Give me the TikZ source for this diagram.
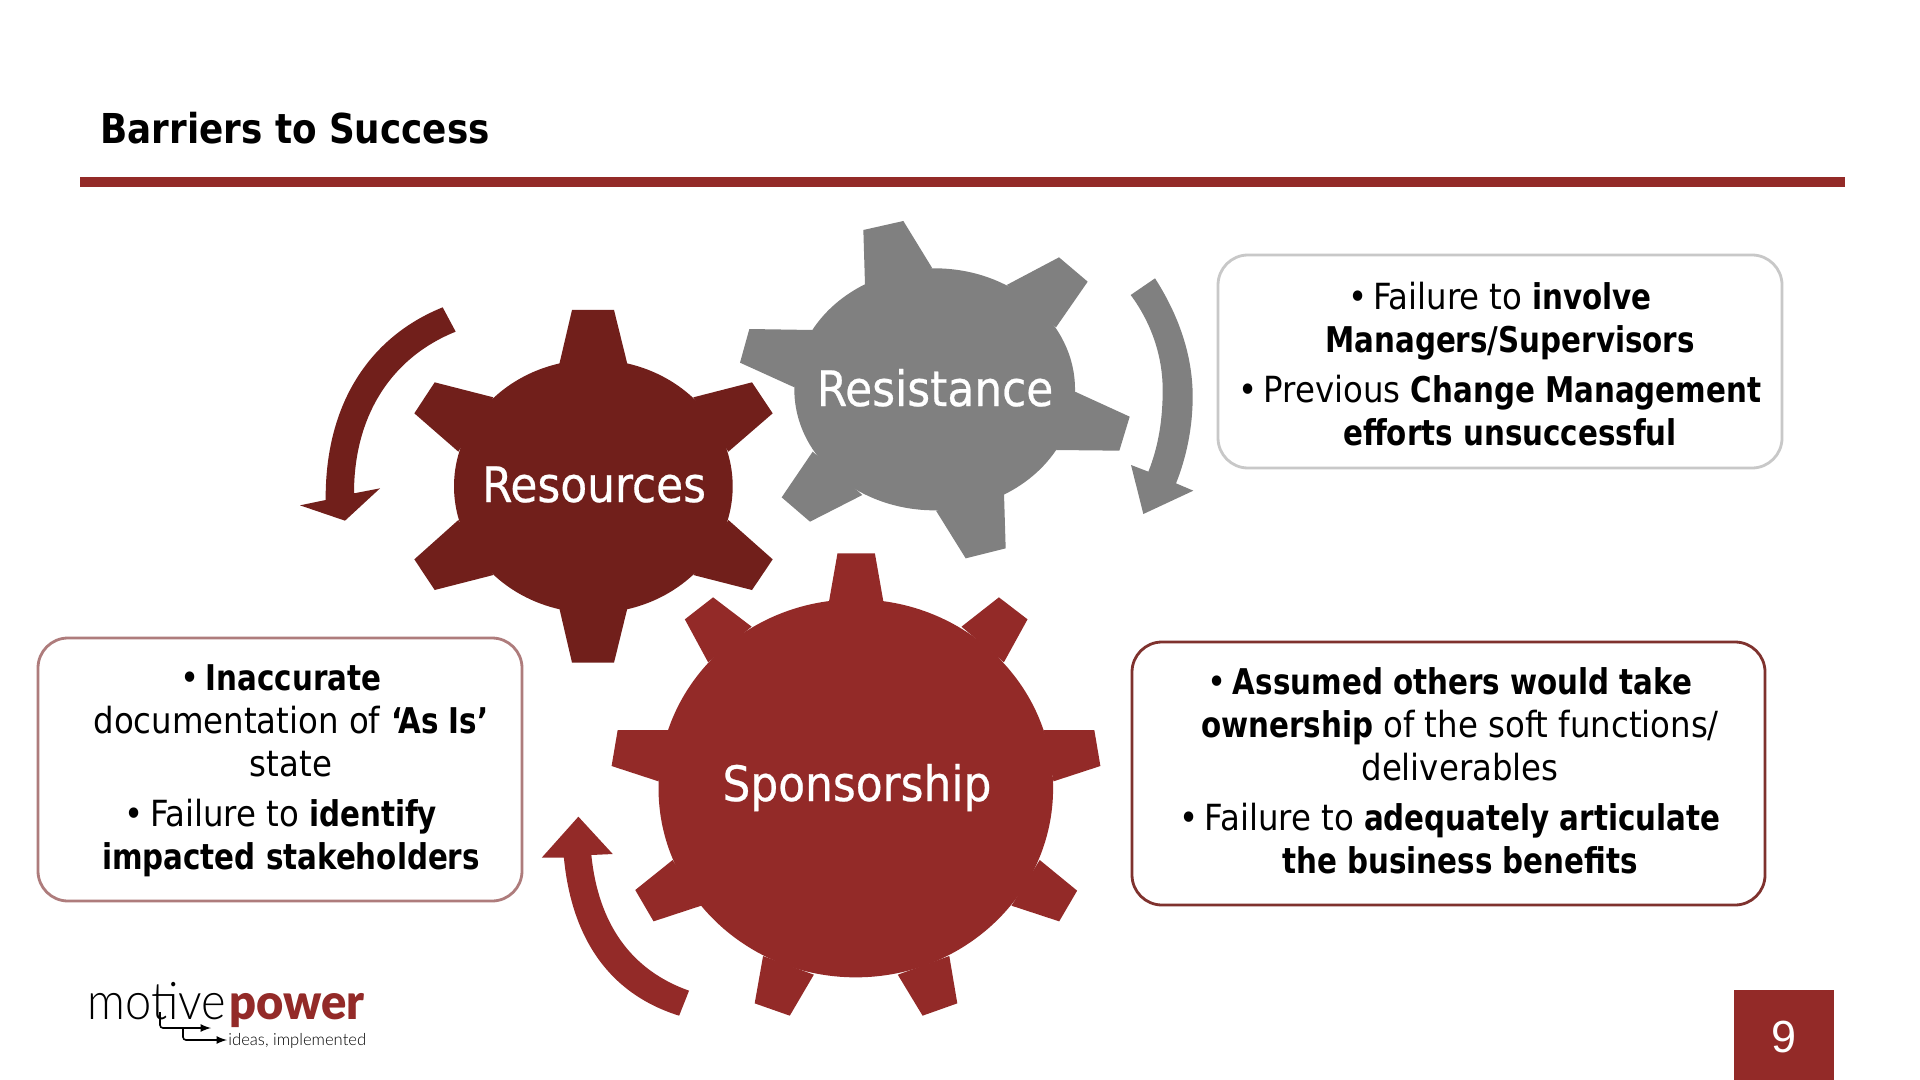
\documentclass[tikz,border=0pt]{standalone}
\usepackage{fontspec}
\setmainfont{DejaVu Sans Condensed}[BoldFeatures={FakeStretch=0.92,Scale=0.985}]
\newfontfamily\titlefont{DejaVu Sans Condensed}[BoldFeatures={FakeStretch=0.965}]
\newfontfamily\gearfont{DejaVu Sans Condensed}[FakeBold=0.5]
\newfontfamily\numfont{Liberation Sans}
\newfontfamily\logofont{Lato Light}
\newfontfamily\logobold{Lato Black}
\definecolor{sponsor}{HTML}{932A28}
\definecolor{resource}{HTML}{711F1B}
\definecolor{resist}{HTML}{808080}
\definecolor{edgeA}{HTML}{C8C8C8}
\definecolor{edgeB}{HTML}{AE7C7C}
\definecolor{edgeC}{HTML}{7F322E}
\newcommand{\bulletline}[1]{\mbox{\textbullet\,#1\hspace{10pt}}}
\begin{document}
\begin{tikzpicture}[x=0.5pt,y=-0.5pt,
  boxA/.style={draw=#1,line width=1.4pt,rounded corners=15pt,fill=white},
  info/.style={font=\fontsize{18}{21.5}\selectfont,align=center,text=black,inner sep=0pt},
  gearlabel/.style={font=\gearfont\fontsize{24.4}{28}\selectfont,text=white,inner sep=0pt,anchor=base}]
\useasboundingbox (0,0) rectangle (1920,1080);
\fill[white] (0,0) rectangle (1920,1080);
% title
\node[anchor=base west,font=\titlefont\fontsize{20.6}{24}\selectfont\bfseries,inner sep=0pt] (title) at (100,143.5) {Barriers to Success};
\fill[sponsor] (80,177) rectangle (1845,187);
% resistance gear
\begin{scope}[shift={(700,200)},x=0.16667pt,y=-0.16667pt,fill=resist]
\fill (704,568) ellipse [x radius=421,y radius=363];
\fill (495,255)--(490,90)--(610,63)--(697,205)--cycle;
\fill (920,255)--(1077,172)--(1163,245)--(1068,382)--cycle;
\fill (1125,575)--(1289,650)--(1258,752)--(1068,750)--cycle;
\fill (912,882)--(917,1045)--(797,1075)--(708,932)--cycle;
\fill (487,885)--(330,965)--(245,892)--(338,755)--cycle;
\fill (283,562)--(120,488)--(148,387)--(338,390)--cycle;
\fill (1365,235) .. controls (1445,360) and (1478,480) .. (1478,590) .. controls (1478,680) and (1460,770) .. (1428,850) -- (1480,872) -- (1330,942) -- (1293,795) -- (1345,815) .. controls (1375,740) and (1388,660) .. (1388,570) .. controls (1388,470) and (1355,370) .. (1292,285) -- cycle;
\end{scope}
% resources gear
\begin{scope}[shift={(280,280)},x=0.16667pt,y=-0.16667pt,fill=resource]
\fill (940,619) ellipse [x radius=418,y radius=380];
\fill (838,252)--(876,90)--(1002,90)--(1042,252)--cycle;
\fill (1240,352)--(1416,307)--(1478,400)--(1345,515)--cycle;
\fill (1345,720)--(1478,838)--(1416,930)--(1240,885)--cycle;
\fill (1042,985)--(1002,1148)--(876,1148)--(838,985)--cycle;
\fill (640,885)--(464,930)--(403,838)--(535,720)--cycle;
\fill (535,515)--(403,400)--(464,307)--(640,352)--cycle;
\fill (488,82) .. controls (270,170) and (135,370) .. (137,660) -- (60,676) -- (195,722) -- (300,625) -- (222,640) .. controls (222,400) and (340,230) .. (527,155) -- cycle;
\end{scope}
% sponsorship gear
\begin{scope}[shift={(520,540)},x=0.1908pt,y=-0.16667pt,fill=sponsor]
\fill (880,745) ellipse [x radius=517,y radius=567];
\fill (810,183)--(832,40)--(930,40)--(952,183)--cycle;
\fill (1157,260)--(1255,172)--(1330,238)--(1268,367)--cycle;
\fill (1372,570)--(1505,570)--(1521,678)--(1398,724)--cycle;
\fill (1362,960)--(1460,1052)--(1413,1144)--(1288,1097)--cycle;
\fill (1125,1248)--(1146,1390)--(1055,1427)--(990,1304)--cycle;
\fill (770,1304)--(707,1427)--(615,1390)--(637,1248)--cycle;
\fill (475,1097)--(350,1144)--(302,1050)--(400,960)--cycle;
\fill (363,724)--(240,678)--(256,570)--(390,570)--cycle;
\fill (493,367)--(432,238)--(506,172)--(607,260)--cycle;
\fill (417,1427) .. controls (230,1360) and (135,1190) .. (115,953) -- (57,953) -- (153,830) -- (243,942) -- (187,945) .. controls (205,1150) and (290,1290) .. (443,1352) -- cycle;
\end{scope}
\node[gearlabel] (lresist) at (935,406) {Resistance};
\node[gearlabel] (lresource) at (594,502) {Resources};
\node[gearlabel] (lsponsor) at (857,801) {Sponsorship};
% boxes
\draw[boxA=edgeA] (1218,255) rectangle (1782,468);
\draw[boxA=edgeB] (38,638) rectangle (522,901);
\draw[boxA=edgeC] (1132,642) rectangle (1765,905);
\node[info] (t1) at (1510,364.5) {\bulletline{Failure to \textbf{involve}}\\\textbf{Managers/Supervisors}\\[3.5pt]\bulletline{Previous \textbf{Change Management}}\\\textbf{efforts unsuccessful}};
\node[info] (t2) at (291,771) {\bulletline{\textbf{Inaccurate}}\\documentation of \textbf{‘As Is’}\\state\\[3.5pt]\bulletline{Failure to \textbf{identify}}\\\textbf{impacted stakeholders}};
\node[info] (t3) at (1460,771) {\bulletline{\textbf{Assumed others would take}}\\\textbf{ownership} of the soft functions/\\deliverables\\[3.5pt]\bulletline{Failure to \textbf{adequately articulate}}\\\textbf{the business benefits}};
% page number
\fill[sponsor] (1734,990) rectangle (1834,1080);
\node[font=\numfont\fontsize{22.5}{26}\selectfont,text=white,inner sep=0pt] (num) at (1784,1037) {9};
% logo
\node[anchor=base west,inner sep=0pt,font=\logofont\fontsize{23.5}{26}\selectfont] (m) at (87,1019) {\scalebox{1}[1.1]{motive}};
\node[anchor=base west,inner sep=0pt,font=\logobold\fontsize{23.5}{26}\selectfont,text=sponsor] (p) at (229,1019) {\scalebox{1}[1.05]{power}};
\node[anchor=base west,inner sep=0pt,font=\logofont\fontsize{8.3}{10}\selectfont] (i) at (228,1045) {ideas, implemented};
\coordinate (a1) at (160,1012);
\coordinate (a2) at (211,1028);
\coordinate (a3) at (183,1028);
\coordinate (a4) at (227,1040);
\draw[line width=0.8pt,-latex,rounded corners=1.5pt] (a1) |- (a2);
\draw[line width=0.8pt,-latex,rounded corners=1.5pt] (a3) |- (a4);
\end{tikzpicture}
\end{document}
